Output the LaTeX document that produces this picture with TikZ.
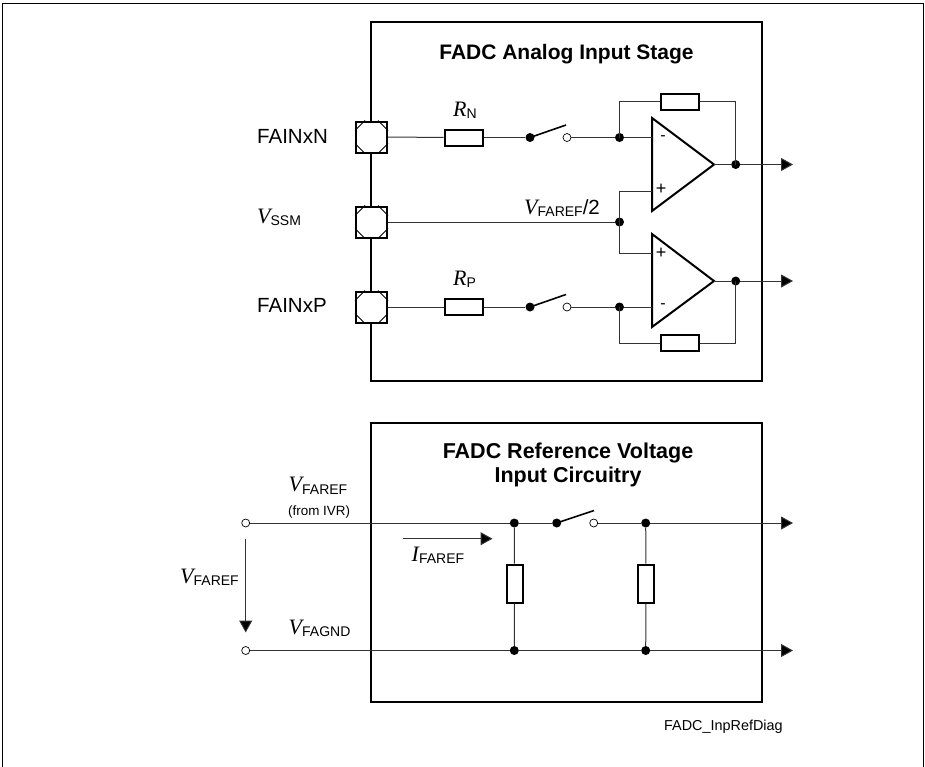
\documentclass[tikz,border=0pt]{standalone}
\usepackage{fontspec}
\setmainfont{Liberation Sans}
\newfontfamily\serifit[Ligatures=TeX]{Liberation Serif}
\usetikzlibrary{arrows.meta}
\definecolor{wire}{gray}{0.2}
\tikzset{
  wirepath/.style={draw=wire,line width=1pt},
  flow/.style={wirepath,-{Triangle[length=12pt,width=13pt,fill=black]}},
  frame/.style={draw=black,line width=2pt},
  res/.style={draw=black,line width=2pt,fill=white,minimum width=38pt,minimum height=16pt,inner sep=0pt},
  resv/.style={res,minimum width=16pt,minimum height=38pt},
  dotj/.style={circle,fill=black,draw=none,minimum size=9pt,inner sep=0pt},
  openj/.style={circle,fill=white,draw=black,line width=0.7pt,minimum size=8pt,inner sep=0pt},
  padbox/.style={draw=black,line width=2pt,fill=white,minimum size=31pt,inner sep=0pt},
  lab/.style={inner sep=0pt,anchor=base west,font=\fontsize{20.5}{21}\selectfont},
  amp/.style={draw=black,line width=2pt,fill=white,line join=miter},
}
\newcommand{\volt}[2]{{\fontsize{22}{22}\selectfont\serifit\itshape #1}\raisebox{-2.5pt}{\fontsize{14}{15}\selectfont #2}}
\begin{document}
\begin{tikzpicture}[x=1pt,y=-1pt]
  \useasboundingbox (0,0) rectangle (925,766);
  % sheet and the two blocks
  \draw[draw=black,line width=1pt] (2.5,3.5) rectangle (923.5,770);
  \draw[frame] (371,21.5) rectangle (761.5,381);
  \draw[frame] (371,423) rectangle (761.5,702);
  \node[inner sep=0pt,font=\fontsize{21}{21}\selectfont\bfseries] (title1) at (566.5,54.5) {FADC Analog Input Stage};
  \node[inner sep=0pt,align=center,font=\fontsize{21.5}{23.5}\selectfont\bfseries] (title2) at (568,465) {FADC Reference Voltage\\Input Circuitry};
  % pads
  \foreach \name/\y in {padn/137,pads/222,padp/307} {
    \node[padbox] (\name) at (371.5,\y) {};
    \draw[line width=0.8pt] (\name.north west) ++(0,10) -- ++(10,-10);
    \draw[line width=0.8pt] (\name.north east) ++(0,10) -- ++(-10,-10);
    \draw[line width=0.8pt] (\name.south west) ++(0,-10) -- ++(10,10);
    \draw[line width=0.8pt] (\name.south east) ++(0,-10) -- ++(-10,10);
  }
  \node[lab] (lfn) at (257,143.3) {FAINxN};
  \node[lab] (lfs) at (257,223.3) {\volt{V}{SSM}};
  \node[lab] (lfp) at (257,312.7) {FAINxP};
  % amplifiers
  \foreach \name/\ytop/\ybot/\ytip in {ampn/118/211/164.5,ampp/234/327/281} {
    \draw[amp] (652,\ytop) coordinate (\name a) -- (714,\ytip) coordinate (\name) -- (652,\ybot) -- cycle;
  }
  \node[font=\fontsize{16}{16}\selectfont,inner sep=0pt] (mn1) at (663,138) {-};
  \node[font=\fontsize{18}{18}\selectfont,inner sep=0pt] (pl1) at (661,189) {+};
  \node[font=\fontsize{18}{18}\selectfont,inner sep=0pt] (pl2) at (661,253) {+};
  \node[font=\fontsize{16}{16}\selectfont,inner sep=0pt] (mn2) at (663,306) {-};
  % upper and lower channel
  \foreach \c/\y/\fy/\oy in {n/137.5/101.5/164.5,p/307/343/281} {
    \node[res] (r\c) at (463.5,\y) {};
    \node[dotj] (sw\c) at (530,\y) {};
    \node[openj] (op\c) at (567,\y) {};
    \coordinate (lev\c) at (566,\y-12.5);
    \node[dotj] (ji\c) at (619.5,\y) {};
    \node[dotj] (jo\c) at (735.7,\oy) {};
    \node[res] (rf\c) at (680,\fy) {};
    \coordinate (out\c) at (793,\oy);
    \coordinate (ain\c) at (652,\y);
    \draw[wirepath] (pad\c) -- (r\c);
    \draw[wirepath] (r\c) -- (sw\c);
    \draw[line width=1.6pt] (sw\c.center) -- (lev\c);
    \draw[wirepath] (op\c) -- (ji\c);
    \draw[wirepath] (ji\c) -- (ain\c);
    \draw[wirepath] (ji\c.center) |- (rf\c);
    \draw[wirepath] (rf\c) -| (jo\c.center);
    \draw[wirepath] (amp\c) -- (jo\c);
    \draw[flow] (jo\c) -- (out\c);
  }
  \node[lab] (lrn) at (453,116) {\volt{R}{N}};
  \node[lab] (lrp) at (453,285) {\volt{R}{P}};
  % mid wire
  \node[dotj] (jm) at (619.5,222) {};
  \coordinate (ipn) at (652,191);
  \coordinate (ipp) at (652,253);
  \draw[wirepath] (pads) -- (jm);
  \draw[wirepath] (jm.center) |- (ipn);
  \draw[wirepath] (jm.center) |- (ipp);
  \node[lab] (lvm) at (524,214) {\volt{V}{FAREF}/2};
  % reference block
  \node[openj] (ot) at (245.7,523) {};
  \node[openj] (ob) at (245.7,650.5) {};
  \node[dotj] (jt1) at (514.3,523) {};
  \node[dotj] (jb1) at (514.3,650.5) {};
  \node[dotj] (swr) at (556.7,523) {};
  \node[openj] (opr) at (593.7,523) {};
  \coordinate (levr) at (594,510.5);
  \node[dotj] (jt2) at (645.7,523) {};
  \node[dotj] (jb2) at (645.7,650.5) {};
  \node[resv] (rv1) at (514.5,583.5) {};
  \node[resv] (rv2) at (646,583.5) {};
  \coordinate (outt) at (793,523);
  \coordinate (outb) at (793,650.5);
  \draw[wirepath] (ot) -- (jt1);
  \draw[wirepath] (jt1) -- (swr);
  \draw[line width=1.6pt] (swr.center) -- (levr);
  \draw[wirepath] (opr) -- (jt2);
  \draw[flow] (jt2) -- (outt);
  \draw[wirepath] (ob) -- (jb1);
  \draw[wirepath] (jb1) -- (jb2);
  \draw[flow] (jb2) -- (outb);
  \draw[wirepath] (jt1) -- (rv1);
  \draw[wirepath] (rv1) -- (jb1);
  \draw[wirepath] (jt2) -- (rv2);
  \draw[wirepath] (rv2) -- (jb2);
  \coordinate (va) at (245.7,539);
  \coordinate (vb) at (245.7,632.5);
  \draw[flow] (va) -- (vb);
  \coordinate (ia) at (403,538.7);
  \coordinate (ib) at (492.5,538.7);
  \draw[flow] (ia) -- (ib);
  \node[lab] (lvr) at (288.5,491.7) {\volt{V}{FAREF}};
  \node[inner sep=0pt,anchor=west,font=\fontsize{13.4}{14}\selectfont] (lfrom) at (288,512) {(from IVR)};
  \node[lab] (lif) at (411.5,561) {\volt{I}{FAREF}};
  \node[lab] (lvl) at (180,583) {\volt{V}{FAREF}};
  \node[lab] (lgn) at (288.5,634) {\volt{V}{FAGND}};
  \node[inner sep=0pt,anchor=west,font=\fontsize{14.4}{15}\selectfont] (ltag) at (664,726.7) {FADC\_InpRefDiag};
\end{tikzpicture}
\end{document}
